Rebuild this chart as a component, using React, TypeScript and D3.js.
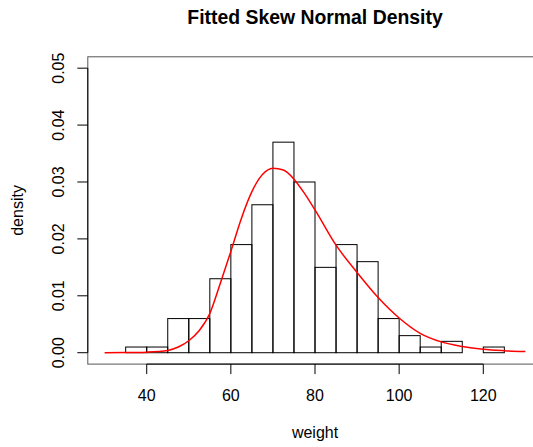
import { useEffect, useRef } from 'react';
import * as d3 from 'd3';

// Histogram bins (lower edge, width 5) and their densities
const binStarts = [35, 40, 45, 50, 55, 60, 65, 70, 75, 80, 85, 90, 95, 100, 105, 110, 115, 120];
const binDensity = [0.001, 0.001, 0.006, 0.006, 0.013, 0.019, 0.026, 0.037, 0.030, 0.015, 0.019, 0.016, 0.006, 0.003, 0.001, 0.002, 0.0, 0.001];
const binWidth = 5;

// Fitted skew normal curve
const curveX = [30, 35, 40, 45, 47.5, 50, 52.5, 55, 57.5, 60, 62.5, 65, 67.5, 70, 72.5, 75, 77.5, 80, 85, 90, 95, 100, 105, 110, 115, 120, 125, 130];
const curveY = [0.0, 0.00002, 0.0001, 0.0004, 0.001, 0.0021, 0.0039, 0.0069, 0.0122, 0.0178, 0.0236, 0.0283, 0.0313, 0.0324, 0.0321, 0.0305, 0.028, 0.0251, 0.0189, 0.0141, 0.0097, 0.0061, 0.0034, 0.0019, 0.0011, 0.0006, 0.00035, 0.0002];

const xTicks = [40, 60, 80, 100, 120];
const yTicks = [0.0, 0.01, 0.02, 0.03, 0.04, 0.05];

const W = 533;
const H = 447;

const App = () => {
  const ref = useRef<SVGSVGElement>(null);

  useEffect(() => {
    if (!ref.current) return;
    const svg = d3.select(ref.current);
    svg.selectAll('*').remove();

    const font = 'Liberation Sans, Arial, Helvetica, sans-serif';

    const x = d3.scaleLinear().domain([26, 134]).range([87.8, 542.2]);
    const y = d3.scaleLinear().domain([-0.002, 0.052]).range([364.1, 56.8]);

    const left = x(26);
    const right = x(134);
    const top = y(0.052);
    const bottom = y(-0.002);

    // Histogram bars
    svg.append('g')
      .selectAll('rect')
      .data(binStarts)
      .enter()
      .append('rect')
      .attr('x', d => x(d))
      .attr('y', (d, i) => y(binDensity[i]))
      .attr('width', x(binWidth) - x(0))
      .attr('height', (d, i) => y(0) - y(binDensity[i]))
      .attr('fill', 'none')
      .attr('stroke', '#000')
      .attr('stroke-width', 1);

    // Fitted density curve
    const line = d3.line<number>()
      .x(d => x(d))
      .y((d, i) => y(curveY[i]))
      .curve(d3.curveMonotoneX);

    svg.append('path')
      .datum(curveX)
      .attr('d', line)
      .attr('fill', 'none')
      .attr('stroke', '#ff0000')
      .attr('stroke-width', 1.5);

    // Plot box
    svg.append('rect')
      .attr('x', left)
      .attr('y', top)
      .attr('width', right - left)
      .attr('height', bottom - top)
      .attr('fill', 'none')
      .attr('stroke', '#555')
      .attr('stroke-width', 1);

    // X axis
    const xg = svg.append('g');
    xg.append('line')
      .attr('x1', x(40)).attr('x2', x(120))
      .attr('y1', bottom).attr('y2', bottom)
      .attr('stroke', '#000');
    xTicks.forEach(t => {
      xg.append('line')
        .attr('x1', x(t)).attr('x2', x(t))
        .attr('y1', bottom).attr('y2', bottom + 10)
        .attr('stroke', '#000');
      xg.append('text')
        .attr('x', x(t))
        .attr('y', 400.5)
        .attr('text-anchor', 'middle')
        .style('font-family', font)
        .style('font-size', '16px')
        .style('fill', '#000')
        .text(String(t));
    });

    // Y axis
    const yg = svg.append('g');
    yg.append('line')
      .attr('x1', left).attr('x2', left)
      .attr('y1', y(0)).attr('y2', y(0.05))
      .attr('stroke', '#000');
    yTicks.forEach(t => {
      yg.append('line')
        .attr('x1', left - 10.5).attr('x2', left)
        .attr('y1', y(t)).attr('y2', y(t))
        .attr('stroke', '#000');
      yg.append('text')
        .attr('transform', `translate(64,${y(t)}) rotate(-90)`)
        .attr('text-anchor', 'middle')
        .style('font-family', font)
        .style('font-size', '16px')
        .style('fill', '#000')
        .text(t.toFixed(2));
    });

    // Axis titles
    svg.append('text')
      .attr('x', (left + right) / 2)
      .attr('y', 438)
      .attr('text-anchor', 'middle')
      .style('font-family', font)
      .style('font-size', '16px')
      .style('fill', '#000')
      .text('weight');

    svg.append('text')
      .attr('transform', `translate(22.7,${(top + bottom) / 2}) rotate(-90)`)
      .attr('text-anchor', 'middle')
      .style('font-family', font)
      .style('font-size', '16px')
      .style('fill', '#000')
      .text('density');

    // Title
    svg.append('text')
      .attr('x', (left + right) / 2)
      .attr('y', 24)
      .attr('text-anchor', 'middle')
      .style('font-family', font)
      .style('font-size', '19.4px')
      .style('font-weight', 'bold')
      .style('fill', '#000')
      .text('Fitted Skew Normal Density');
  }, []);

  return (
    <svg
      ref={ref}
      width={W}
      height={H}
      viewBox={`0 0 ${W} ${H}`}
      style={{ position: 'absolute', left: 0, top: 0, background: '#fff' }}
    />
  );
};

export default App;
